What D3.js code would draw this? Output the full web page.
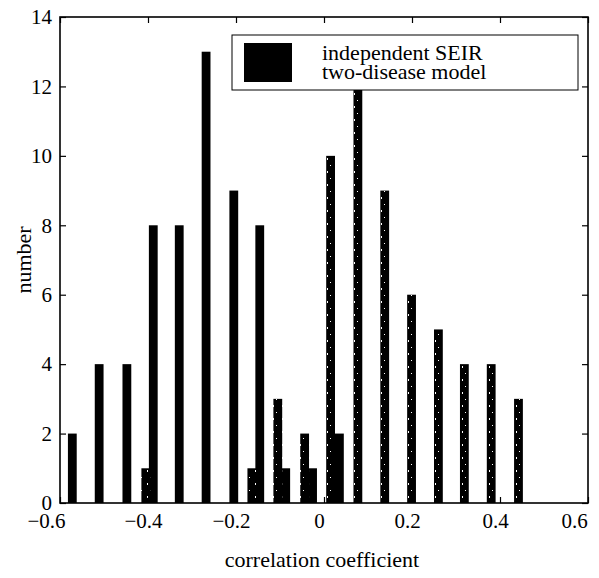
<!DOCTYPE html>
<html>
<head>
<meta charset="utf-8">
<script src="https://cdn.jsdelivr.net/npm/d3@7"></script>
<style>
    body { margin: 0; background: white; }
    svg { display: block; }
    text { font-family: "Liberation Serif", "Times New Roman", serif; fill: black; }
</style>
</head>
<body>
<div class="svg-container"></div>
<script>
// bin centres and counts
const seirCenters = [-0.572, -0.511, -0.448, -0.388, -0.329, -0.268, -0.205, -0.146, -0.087, -0.026, 0.035];
const seirCounts = [2, 4, 4, 8, 8, 13, 9, 8, 1, 1, 2];

const twoCenters = [-0.405, -0.164, -0.105, -0.044, 0.015, 0.077, 0.138, 0.199, 0.260, 0.319, 0.380, 0.442];
const twoCounts = [1, 1, 3, 2, 10, 12, 9, 6, 5, 4, 4, 3];

const xTicks = [-0.6, -0.4, -0.2, 0, 0.2, 0.4, 0.6];
const yTicks = [0, 2, 4, 6, 8, 10, 12, 14];
const legendLabels = ['independent SEIR', 'two-disease model'];

const svgWidth = 599;
const svgHeight = 578;
const plot = {left: 60, right: 588, top: 17, bottom: 503};
const barWidth = 0.02;

const svg = d3.select('.svg-container').append('svg')
    .attr('width', svgWidth)
    .attr('height', svgHeight);

const x = d3.scaleLinear().domain([-0.6, 0.6]).range([plot.left, plot.right]);
const y = d3.scaleLinear().domain([0, 14]).range([plot.bottom, plot.top]);

// speckled fill for the second series (scanned grey)
const defs = svg.append('defs');
const pat = defs.append('pattern')
    .attr('id', 'speckle')
    .attr('patternUnits', 'userSpaceOnUse')
    .attr('width', 9)
    .attr('height', 13);
pat.append('rect').attr('width', 9).attr('height', 13).attr('fill', 'black');
pat.append('rect').attr('x', 3).attr('y', 2).attr('width', 1).attr('height', 2).attr('fill', 'white');
pat.append('rect').attr('x', 6).attr('y', 9).attr('width', 1).attr('height', 1).attr('fill', 'white');

/** Helper functions **/
function renderBars(parent, centers, counts, fill) {
    parent.append('g')
        .selectAll('rect')
        .data(centers.map((c, i) => ({c: c, n: counts[i]})))
        .join('rect')
        .attr('x', d => x(d.c - barWidth / 2))
        .attr('y', d => y(d.n))
        .attr('width', d => x(d.c + barWidth / 2) - x(d.c - barWidth / 2))
        .attr('height', d => y(0) - y(d.n))
        .attr('fill', fill);
}

function styleAxis(g) {
    g.select('.domain').remove();
    g.selectAll('.tick line').attr('stroke', 'black').attr('stroke-width', 1.2);
    g.selectAll('.tick text').attr('font-size', '21px').attr('fill', 'black');
}

renderBars(svg, seirCenters, seirCounts, 'black');
renderBars(svg, twoCenters, twoCounts, 'url(#speckle)');

const fmt = d => d === 0 ? '0' : d3.format('.1f')(d);

const xAxis = svg.append('g')
    .attr('transform', `translate(0,${plot.bottom})`)
    .call(d3.axisBottom(x).tickValues(xTicks).tickFormat(fmt).tickSizeInner(-6).tickSizeOuter(0).tickPadding(10))
    .call(styleAxis);
// labels sit a little left of their ticks in the scan; keep the end ones inside the page
xAxis.selectAll('.tick text')
    .attr('dx', d => Math.abs(d) === 0.6 ? -14 : -5);

svg.append('g')
    .attr('transform', `translate(0,${plot.top})`)
    .call(d3.axisTop(x).tickValues(xTicks).tickFormat('').tickSizeInner(-6).tickSizeOuter(0))
    .call(styleAxis);

svg.append('g')
    .attr('transform', `translate(${plot.left},0)`)
    .call(d3.axisLeft(y).tickValues(yTicks).tickSizeInner(-6).tickSizeOuter(0).tickPadding(8))
    .call(styleAxis);

svg.append('g')
    .attr('transform', `translate(${plot.right},0)`)
    .call(d3.axisRight(y).tickValues(yTicks).tickFormat('').tickSizeInner(-6).tickSizeOuter(0))
    .call(styleAxis);

// frame
svg.append('rect')
    .attr('x', plot.left)
    .attr('y', plot.top)
    .attr('width', plot.right - plot.left)
    .attr('height', plot.bottom - plot.top)
    .attr('fill', 'none')
    .attr('stroke', 'black')
    .attr('stroke-width', 1.6);

// axis titles
svg.append('text')
    .attr('x', 322)
    .attr('y', 567)
    .attr('text-anchor', 'middle')
    .attr('font-size', '22px')
    .text('correlation coefficient');

svg.append('text')
    .attr('transform', `translate(31,${(plot.top + plot.bottom) / 2}) rotate(-90)`)
    .attr('text-anchor', 'middle')
    .attr('font-size', '22px')
    .text('number');

// legend
const legend = svg.append('g');
legend.append('rect')
    .attr('x', 232)
    .attr('y', 35)
    .attr('width', 346)
    .attr('height', 55)
    .attr('fill', 'white')
    .attr('stroke', 'black')
    .attr('stroke-width', 1);
legend.append('rect')
    .attr('x', 244)
    .attr('y', 43)
    .attr('width', 48)
    .attr('height', 39)
    .attr('fill', 'black');
legendLabels.forEach((t, i) => {
    legend.append('text')
        .attr('x', 322)
        .attr('y', 60 + i * 19)
        .attr('font-size', '22px')
        .text(t);
});
</script>
</body>
</html>
